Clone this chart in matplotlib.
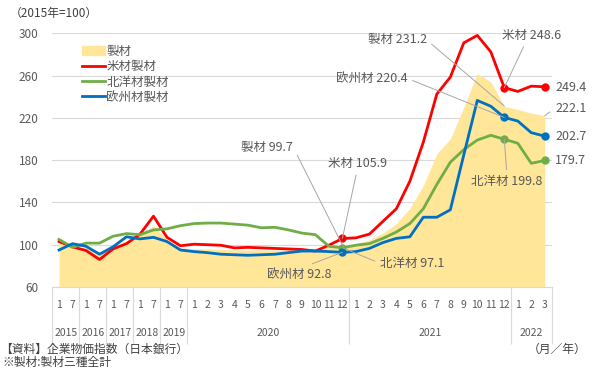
import matplotlib.pyplot as plt
import numpy as np
from matplotlib.patches import Patch
from matplotlib.lines import Line2D

plt.rcParams['font.family'] = ['Noto Sans CJK JP', 'DejaVu Sans']

# x軸のラベル（月と年）
months = ['1', '7'] * 5 + [str(m) for m in range(1, 13)] * 2 + ['1', '2', '3']
years = ['2015', '2016', '2017', '2018', '2019', '2020', '2021', '2022']
year_len = [2, 2, 2, 2, 2, 12, 12, 3]

# 製材（製材三種全計）
seizai = [103, 98, 97, 91, 98, 104, 110, 118, 105, 97,
          96, 96, 95.5, 95, 95, 95, 95, 95, 95.5, 96, 97.5, 99.7,
          101, 104.5, 111, 120, 134.5, 156, 186, 200, 230, 262, 254, 231.2,
          228, 224.5, 222.1]
# 米材製材
beizai = [103, 98, 94.5, 86, 96, 101, 110, 127, 107, 99,
          100.5, 100, 99.5, 97, 97.5, 97, 96.5, 96, 95.5, 94, 99.5, 105.9,
          106.5, 110, 122, 134, 160, 197, 242.5, 258.5, 291, 298, 282.5, 248.6,
          245, 250, 249.4]
# 北洋材製材
hokuyo = [105, 97.5, 101.5, 101.5, 108, 110.5, 109.5, 114, 115, 118,
          120, 120.5, 120.5, 119.5, 118.5, 116, 116.5, 114, 111, 109.5, 98.5, 97.1,
          99.5, 101, 106, 112, 120, 134, 157, 178, 190, 199, 203.5, 199.8,
          196, 177, 179.7]
# 欧州材製材
oshu = [95, 101, 98.5, 91, 98, 107.5, 105.5, 107, 103, 95,
        93.5, 92.5, 91, 90.5, 90, 90.5, 91, 92.5, 94, 94, 93.5, 92.8,
        93.5, 96.5, 102, 106, 107.5, 126, 126, 133, 185, 236.5, 231, 220.4,
        217, 206, 202.7]

c_fill = '#FFE699'
c_red = '#FF0000'
c_green = '#70AD47'
c_blue = '#0070C0'
c_text = '#595959'
c_grid = '#D9D9D9'

x = np.arange(len(months))

fig = plt.figure(figsize=(6.06, 3.8), dpi=100)
ax = fig.add_axes([52.3 / 606, 1 - 287 / 380, 499.2 / 606, 253.7 / 380])

ax.fill_between(x, 0, seizai, color=c_fill, lw=0, zorder=1)
ax.plot(x, beizai, color=c_red, lw=2.0, zorder=3)
ax.plot(x, hokuyo, color=c_green, lw=2.0, zorder=3)
ax.plot(x, oshu, color=c_blue, lw=2.0, zorder=3)

# 注目点のマーカー
mark = [21, 33, 36]
for s, c in [(beizai, c_red), (hokuyo, c_green), (oshu, c_blue)]:
    ax.plot(mark, [s[i] for i in mark], 'o', color=c, ms=5, zorder=4)

ax.set_xlim(-0.5, len(months) - 0.5)
ax.set_ylim(60, 300)
ax.set_yticks(np.arange(60, 301, 40))
ax.yaxis.grid(True, color=c_grid, lw=0.8)
ax.set_axisbelow(True)
ax.tick_params(axis='y', length=0, colors=c_text, labelsize=8.5, pad=10)
ax.set_xticks([])
for sp in ['left', 'right', 'top']:
    ax.spines[sp].set_visible(False)
ax.spines['bottom'].set_color(c_grid)

# 2段のx軸ラベル
tr = ax.get_xaxis_transform()
for i, m in enumerate(months):
    ax.text(i, -0.071, m, transform=tr, ha='center', va='center',
            fontsize=7.5, color=c_text)
start = 0
bounds = [-0.5]
for yr, n in zip(years, year_len):
    ax.text(start + (n - 1) / 2, -0.181, yr, transform=tr, ha='center',
            va='center', fontsize=7.5, color=c_text)
    start += n
    bounds.append(start - 0.5)
ax.vlines(bounds, -0.225, 0, transform=tr, color=c_grid, lw=0.8, clip_on=False)

# 凡例
handles = [Patch(color=c_fill, label='製材'),
           Line2D([], [], color=c_red, lw=2, label='米材製材'),
           Line2D([], [], color=c_green, lw=2, label='北洋材製材'),
           Line2D([], [], color=c_blue, lw=2, label='欧州材製材')]
leg = fig.legend(handles=handles, loc='upper left',
                 bbox_to_anchor=(82 / 606, 1 - 45 / 380), frameon=False,
                 fontsize=9, handlelength=1.8, handleheight=0.8,
                 handletextpad=0.15, labelspacing=0.18, borderpad=0,
                 borderaxespad=0)
for t in leg.get_texts():
    t.set_color(c_text)

# 引き出し線付きの注記
notes = [
    ('製材 99.7', seizai, 21, 17.35, 192.4, 'right', 'center', (1, 0.5)),
    ('米材 105.9', beizai, 21, 22.1, 177.3, 'center', 'center', (0.5, 0)),
    ('北洋材 97.1', hokuyo, 21, 23.8, 82.4, 'left', 'center', (0, 0.5)),
    ('欧州材 92.8', oshu, 21, 17.8, 72.3, 'center', 'center', (0.55, 1)),
    ('製材 231.2', seizai, 33, 27.25, 293.7, 'right', 'center', (1, 0.5)),
    ('米材 248.6', beizai, 33, 35.05, 298.4, 'center', 'center', (0.4, 0)),
    ('欧州材 220.4', oshu, 33, 25.8, 257.4, 'right', 'center', (1, 0.5)),
    ('北洋材 199.8', hokuyo, 33, 33.2, 159.6, 'center', 'center', (0.5, 1)),
    ('222.1', seizai, 36, 36.76, 229.0, 'left', 'center', (0, 0.5)),
]
for txt, s, i, tx, ty, ha, va, rp in notes:
    ax.annotate(txt, xy=(i, s[i]), xytext=(tx, ty), ha=ha, va=va,
                fontsize=9, color=c_text, zorder=5,
                arrowprops=dict(arrowstyle='-', color='#A6A6A6', lw=0.7,
                                relpos=rp, shrinkA=2, shrinkB=0))

# 右端の値ラベル
for txt, yv in [('249.4', 248.9), ('202.7', 202.2), ('179.7', 179.5)]:
    ax.text(36.76, yv, txt, ha='left', va='center', fontsize=9,
            color=c_text, clip_on=False)

fig.text(10 / 606, 1 - 13 / 380, '（2015年=100）', ha='left', va='center',
         fontsize=8.5, color='#404040')
fig.text(0, 1 - 349 / 380, '【資料】企業物価指数（日本銀行）', ha='left',
         va='center', fontsize=8.5, color='#404040')
fig.text(2 / 606, 1 - 362 / 380, '※製材:製材三種全計', ha='left',
         va='center', fontsize=8.5, color='#404040')
fig.text(586 / 606, 1 - 349 / 380, '（月／年）', ha='right', va='center',
         fontsize=8.5, color='#404040')

fig.savefig('out.png', dpi=100)
